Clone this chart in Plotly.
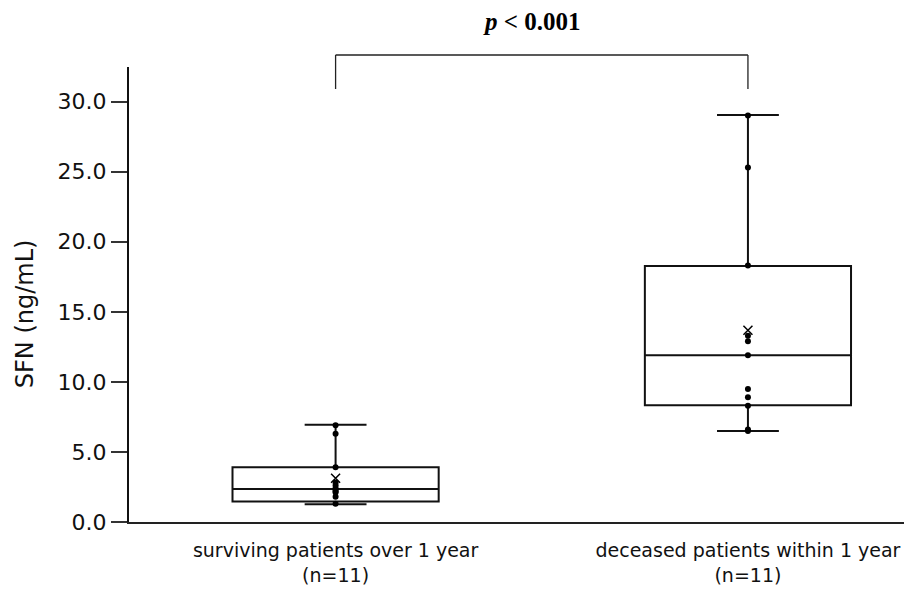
import plotly.graph_objects as go

# ---- data ----
categories = ["surviving patients over 1 year<br>(n=11)",
              "deceased patients within 1 year<br>(n=11)"]

surviving_values = [6.9, 6.3, 3.9, 2.8, 2.6, 2.4, 2.3, 2.2, 2.1, 1.8, 1.3]
deceased_values = [29.0, 25.3, 18.3, 13.3, 12.9, 11.9, 9.5, 8.9, 8.3, 6.6, 6.5]

box_q1 = [1.47, 8.34]
box_median = [2.35, 11.9]
box_q3 = [3.9, 18.27]
box_lowerfence = [1.27, 6.5]
box_upperfence = [6.94, 29.05]
group_means = [3.12, 13.68]

y_tickvals = [0, 5, 10, 15, 20, 25, 30]
p_text = "<b><i>p</i> &lt; 0.001</b>"
y_title = "SFN (ng/mL)"

fig = go.Figure()

fig.add_trace(go.Box(
    x=categories,
    q1=box_q1, median=box_median, q3=box_q3,
    lowerfence=box_lowerfence, upperfence=box_upperfence,
    width=0.5, whiskerwidth=0.3,
    fillcolor="rgba(255,255,255,0)",
    line=dict(color="#111111", width=2),
    boxpoints=False, showlegend=False, hoverinfo="skip",
))

fig.add_trace(go.Scatter(
    x=[categories[0]] * len(surviving_values) + [categories[1]] * len(deceased_values),
    y=surviving_values + deceased_values,
    mode="markers",
    marker=dict(symbol="circle", size=6, color="#000000"),
    showlegend=False,
))

fig.add_trace(go.Scatter(
    x=categories, y=group_means, mode="markers",
    marker=dict(symbol="x-thin", size=9, line=dict(color="#000000", width=1.5)),
    showlegend=False,
))

# significance bracket
bracket_style = dict(color="#222222", width=1.3)
fig.add_shape(type="line", xref="x", yref="paper", x0=0, x1=1, y0=1.0264, y1=1.0264, line=bracket_style)
fig.add_shape(type="line", xref="x", yref="paper", x0=0, x1=0, y0=1.0264, y1=0.9516, line=bracket_style)
fig.add_shape(type="line", xref="x", yref="paper", x0=1, x1=1, y0=1.0264, y1=0.9516, line=bracket_style)

fig.add_annotation(text=p_text, xref="paper", yref="paper", x=0.516, y=1.101,
                   xanchor="center", yanchor="middle", showarrow=False,
                   font=dict(family="Liberation Serif", size=25, color="#000000"))

fig.add_annotation(text=y_title, xref="paper", yref="paper", x=-0.133, y=0.457,
                   xanchor="center", yanchor="middle", textangle=-90, showarrow=False,
                   font=dict(family="DejaVu Sans", size=24, color="#111111"))

# the page body adds an 8px offset, so the figure is 8px smaller on each axis
fig.update_layout(
    width=904, height=582,
    margin=dict(l=121, r=2, t=59, b=68),
    paper_bgcolor="white", plot_bgcolor="white",
    font=dict(family="DejaVu Sans", color="#111111"),
    xaxis=dict(
        type="category", range=[-0.501, 1.393], automargin=False,
        showline=True, linecolor="#222222", linewidth=2,
        showgrid=False, zeroline=False, ticks="",
        ticklabelstandoff=10,
        tickfont=dict(size=19, color="#111111"),
    ),
    yaxis=dict(
        range=[0, 32.47], tickvals=y_tickvals, tickformat=".1f", automargin=False,
        showline=True, linecolor="#111111", linewidth=2,
        showgrid=False, zeroline=False,
        ticks="outside", ticklen=16, tickwidth=1.5, tickcolor="#333333",
        tickfont=dict(size=22, color="#111111"),
    ),
)

fig.write_html("out.html")
